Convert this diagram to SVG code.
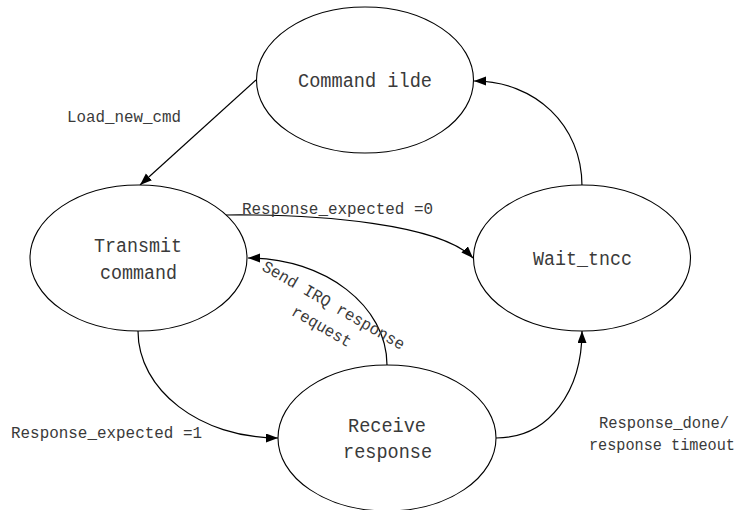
<svg xmlns="http://www.w3.org/2000/svg" width="746" height="510" viewBox="0 0 746 510">
<style>
.st{fill:#fff;stroke:#000;stroke-width:1.1}
.nt{font-family:"Liberation Mono","DejaVu Sans Mono",monospace;font-size:20px;fill:#3a3a3a}
.lt{font-family:"Liberation Mono","DejaVu Sans Mono",monospace;font-size:16.5px;fill:#3a3a3a}
.cn{fill:none;stroke:#000;stroke-width:1.2}
</style>
<defs>
<marker id="ah" markerUnits="userSpaceOnUse" markerWidth="13" markerHeight="10" refX="12" refY="4.5" orient="auto">
<path d="M0,0 L12,4.5 L0,9 z" fill="#000"/>
</marker>
</defs>
<rect width="746" height="510" fill="#fff"/>
<g id="connectors">
<path class="cn" d="M256,80 L140,185" marker-end="url(#ah)"/>
<path class="cn" d="M226,215 C320,214 440,224 473,258" marker-end="url(#ah)"/>
<path class="cn" d="M387,365 C387,306 325,258 248,258" marker-end="url(#ah)"/>
<path class="cn" d="M138,331 C138,390 200,438 278,438" marker-end="url(#ah)"/>
<path class="cn" d="M496,438 C550,438 582,390 582,331" marker-end="url(#ah)"/>
<path class="cn" d="M582,186 C582,125 535,81 474,81" marker-end="url(#ah)"/>
</g>
<g id="node-command-ilde">
<ellipse class="st" cx="365" cy="80" rx="108.5" ry="73"/>
<text class="nt" x="298" y="87" textLength="134" lengthAdjust="spacingAndGlyphs">Command ilde</text>
</g>
<g id="node-transmit-command">
<ellipse class="st" cx="138.5" cy="258" rx="108.5" ry="73"/>
<text class="nt" x="94" y="252" textLength="88" lengthAdjust="spacingAndGlyphs">Transmit</text>
<text class="nt" x="100" y="279" textLength="77" lengthAdjust="spacingAndGlyphs">command</text>
</g>
<g id="node-wait-tncc">
<ellipse class="st" cx="582" cy="258" rx="108.5" ry="73"/>
<text class="nt" x="533" y="265" textLength="99" lengthAdjust="spacingAndGlyphs">Wait_tncc</text>
</g>
<g id="node-receive-response">
<ellipse class="st" cx="387" cy="438" rx="109" ry="73"/>
<text class="nt" x="348" y="432" textLength="78" lengthAdjust="spacingAndGlyphs">Receive</text>
<text class="nt" x="343" y="458" textLength="89" lengthAdjust="spacingAndGlyphs">response</text>
</g>
<g id="labels">
<text class="lt" x="599" y="428" textLength="130" lengthAdjust="spacingAndGlyphs">Response_done/</text>
<text class="lt" x="589" y="450" textLength="146" lengthAdjust="spacingAndGlyphs">response timeout</text>
<text class="lt" x="67" y="122" textLength="114" lengthAdjust="spacingAndGlyphs">Load_new_cmd</text>
<text class="lt" x="242" y="214" textLength="191" lengthAdjust="spacingAndGlyphs">Response_expected =0</text>
<text class="lt" x="11" y="438" textLength="191" lengthAdjust="spacingAndGlyphs">Response_expected =1</text>
<g transform="translate(331,310) rotate(30)">
<text class="lt" x="-80.75" y="0" textLength="161.5" lengthAdjust="spacingAndGlyphs">Send IRQ response</text>
</g>
<g transform="translate(319,331) rotate(30)">
<text class="lt" x="-33.25" y="0" textLength="66.5" lengthAdjust="spacingAndGlyphs">request</text>
</g>
</g>
</svg>
